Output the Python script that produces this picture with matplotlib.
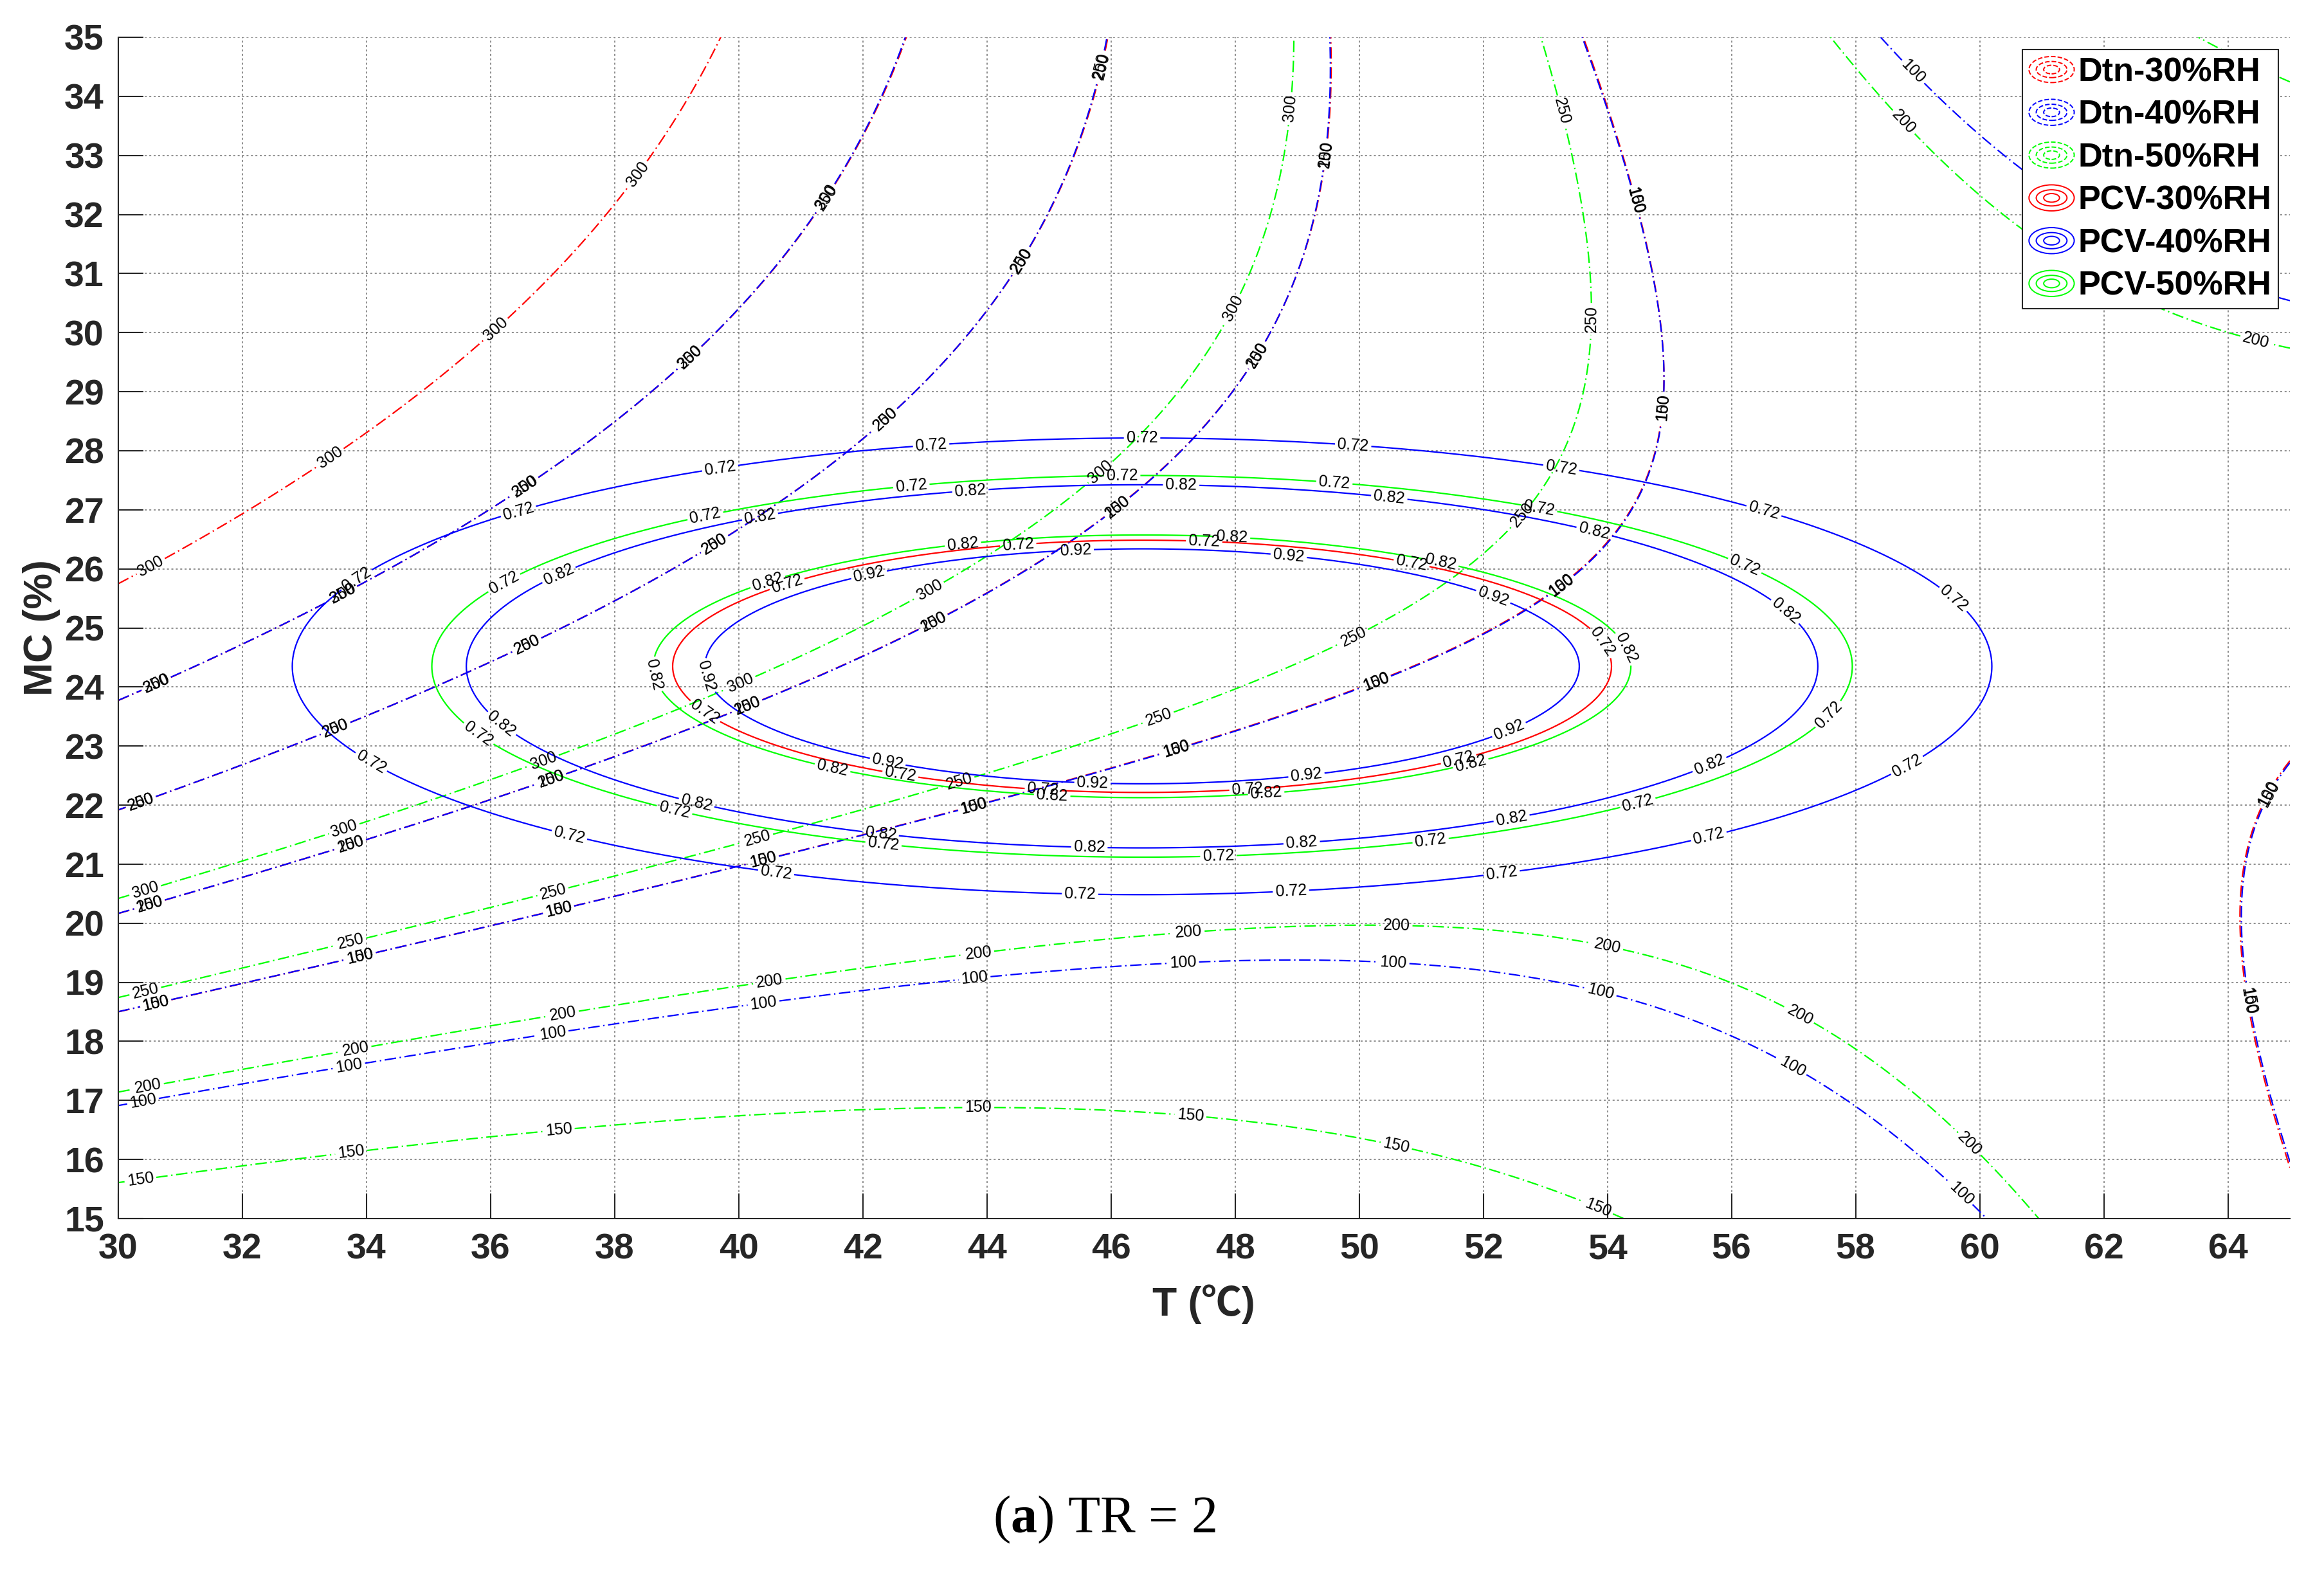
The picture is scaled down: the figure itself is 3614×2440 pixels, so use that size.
import numpy as np
import matplotlib
matplotlib.use("Agg")
import matplotlib.pyplot as plt
from matplotlib.lines import Line2D
from matplotlib.patches import Ellipse
from matplotlib.legend_handler import HandlerBase

plt.rcParams['font.family'] = ['Liberation Sans', 'DejaVu Sans']
plt.rcParams['mathtext.fontset'] = 'custom'
plt.rcParams['mathtext.rm'] = 'Liberation Serif'
plt.rcParams['mathtext.bf'] = 'Liberation Serif:bold'

# ---------------------------------------------------------------- data
x_ticks = [30, 32, 34, 36, 38, 40, 42, 44, 46, 48, 50, 52, 54, 56, 58, 60, 62, 64]
y_ticks = [15, 16, 17, 18, 19, 20, 21, 22, 23, 24, 25, 26, 27, 28, 29, 30, 31, 32, 33, 34, 35]
dtn_levels = [100, 150, 200, 250, 300]
pcv_levels = [0.72, 0.82, 0.92]
legend_labels = ['Dtn-30%RH', 'Dtn-40%RH', 'Dtn-50%RH', 'PCV-30%RH', 'PCV-40%RH', 'PCV-50%RH']

# PCV response surfaces (read from the ellipses): optimum point, peak value per RH, curvature
pcv_opt_T = 46.5
pcv_opt_MC = 24.35
pcv_peak_30 = 0.803
pcv_peak_40 = 0.992
pcv_peak_50 = 0.910
pcv_curv_T = 0.00145
pcv_curv_MC = 0.0182

# Dtn contour lines (T in degC, MC in %)
bundle1_T = [30, 32, 34, 36, 37.1, 40.5, 43.78, 47.05, 50.27, 52.39, 53.27, 54.1, 54.59, 54.77, 54.89, 54.86, 54.77, 54.59, 54.33, 53.99, 53.59]
bundle1_MC = [18.51, 18.98, 19.46, 19.95, 20.21, 21.1, 22.0, 22.95, 24.09, 25.18, 25.79, 26.48, 27.48, 28.0, 29.0, 30.0, 31.0, 32.0, 33.0, 34.0, 35.0]
bundle2_T = [30, 32, 33.74, 36, 37.94, 40.12, 43.12, 46.09, 47.52, 47.99, 48.35, 49.0, 49.28, 49.4, 49.51, 49.52]
bundle2_MC = [20.17, 20.75, 21.35, 22.08, 22.83, 23.73, 25.14, 27.06, 28.45, 29.0, 29.62, 31.0, 32.0, 32.73, 34.0, 35.0]
bundle3_T = [30, 30.37, 32, 33.5, 34, 36, 36.6, 37.94, 38.69, 39.62, 40, 40.68, 41.74, 42, 42.37, 43.63, 44, 44.38, 44.54, 44.96, 45.4, 45.67, 45.81, 45.9]
bundle3_MC = [21.92, 22.03, 22.67, 23.3, 23.48, 24.44, 24.68, 25.4, 25.83, 26.4, 26.67, 27.14, 27.99, 28.2, 28.52, 29.88, 30.35, 31.0, 31.23, 32.0, 33.0, 34.0, 34.52, 35.0]
bundle4_T = [30, 30.6, 32, 33.6, 34, 35.5, 36, 36.54, 37.3, 38, 39.23, 40, 40.54, 41.42, 42, 42.75]
bundle4_MC = [23.84, 24.08, 24.69, 25.62, 25.79, 26.66, 26.98, 27.42, 27.96, 28.5, 29.56, 30.39, 31.02, 32.28, 33.42, 35.0]
bundle5_T = [30, 30.53, 32, 33.42, 34, 34.85, 36, 36.38, 36.98, 38, 38.39, 38.88, 39.75]
bundle5_MC = [25.76, 26.03, 26.95, 27.88, 28.3, 29.0, 29.9, 30.34, 31.02, 32.15, 32.67, 33.45, 35.0]
edge_T = [65, 64.65, 64.22, 64.29, 64.6, 65]
edge_MC = [22.83, 21.95, 20.32, 18.56, 17.06, 16.05]
blue_hump_T = [30, 33.72, 36, 37, 40.4, 43.8, 47.2, 50.5, 53.9, 56.9, 59.7, 60.1]
blue_hump_MC = [16.92, 17.59, 17.98, 18.14, 18.6, 19.07, 19.34, 19.3, 18.9, 17.6, 15.55, 15.0]
blue_tr_T = [58.4, 58.9, 59.3, 60, 60.8, 64.8, 65]
blue_tr_MC = [35, 34.39, 34.0, 33.37, 32.64, 30.58, 30.54]
g150_hump_T = [30, 33.75, 37.15, 40.5, 43.9, 47.3, 50.6, 52.5, 53.8]
g150_hump_MC = [15.63, 16.12, 16.5, 16.8, 16.9, 16.75, 16.25, 15.7, 15.0]
g150_tr_T = [63.57, 65.0]
g150_tr_MC = [34.97, 34.25]
g200_hump_T = [30, 32, 33.84, 36, 37.2, 40.5, 43.8, 47.2, 50.5, 53.9, 57.1, 59.9, 61.1]
g200_hump_MC = [17.16, 17.52, 17.86, 18.2, 18.5, 19.0, 19.5, 19.9, 20.0, 19.6, 18.4, 16.25, 15.0]
g200_tr_T = [57.62, 58.0, 58.75, 59.3, 60, 60.8, 62.86, 64, 64.45, 65]
g200_tr_MC = [35, 34.48, 33.54, 32.98, 32.33, 31.7, 30.43, 30.02, 29.87, 29.75]
g250_T = [30, 32, 33.72, 36, 37.0, 40.3, 43.55, 46.8, 49.94, 51.93, 52.6, 53.32, 53.59, 53.75, 53.71, 53.59, 53.45, 53.18, 52.92]
g250_MC = [18.76, 19.19, 19.68, 20.29, 20.55, 21.45, 22.41, 23.51, 24.82, 26.17, 26.9, 28.0, 29.0, 30.0, 31.0, 32.0, 33.0, 34.0, 35.0]
g300_T = [30, 32, 33.65, 36, 40.02, 43.09, 45.83, 47.08, 47.57, 47.99, 48.22, 48.54, 48.77, 48.91, 48.95]
g300_MC = [20.43, 21.0, 21.57, 22.5, 24.09, 25.62, 27.64, 29.0, 29.56, 30.4, 31.0, 32.0, 33.0, 34.0, 35.0]

# level carried by each traced line, per series
dtn30_lines = [(bundle1_T, bundle1_MC, 100), (edge_T, edge_MC, 100), (bundle2_T, bundle2_MC, 150),
               (bundle3_T, bundle3_MC, 200), (bundle4_T, bundle4_MC, 250), (bundle5_T, bundle5_MC, 300)]
dtn40_lines = [(blue_hump_T, blue_hump_MC, 100), (blue_tr_T, blue_tr_MC, 100), (bundle1_T, bundle1_MC, 150),
               (edge_T, edge_MC, 150), (bundle2_T, bundle2_MC, 200), (bundle3_T, bundle3_MC, 250),
               (bundle4_T, bundle4_MC, 300)]
dtn50_lines = [(g150_hump_T, g150_hump_MC, 150), (g150_tr_T, g150_tr_MC, 150), (g200_hump_T, g200_hump_MC, 200),
               (g200_tr_T, g200_tr_MC, 200), (g250_T, g250_MC, 250), (g300_T, g300_MC, 300)]

# contour-label positions
lab_b5 = [(30.53, 26.03), (33.42, 27.88), (36.1, 30.04), (38.39, 32.67)]
lab_b4 = [(30.6, 24.08), (33.6, 25.62), (36.54, 27.42), (39.23, 29.56), (41.42, 32.28)]
lab_b3 = [(30.37, 22.03), (33.5, 23.3), (36.6, 24.68), (39.62, 26.4), (42.37, 28.52), (44.54, 31.23), (45.81, 34.52)]
lab_b2 = [(30.5, 20.33), (33.74, 21.35), (36.98, 22.42), (40.12, 23.73), (43.12, 25.14), (46.09, 27.06), (48.35, 29.62), (49.44, 33.02)]
lab_b1 = [(30.6, 18.66), (33.9, 19.44), (37.1, 20.21), (40.4, 21.05), (43.78, 22.0), (47.05, 22.95), (50.27, 24.09), (53.24, 25.74), (54.89, 28.73), (54.43, 32.23)]
lab_edge = [(64.72, 22.15), (64.36, 18.69)]
lab_blue_hump = [(30.4, 16.97), (33.72, 17.59), (37.0, 18.14), (40.4, 18.64), (43.8, 19.07), (47.16, 19.34), (50.55, 19.32), (53.9, 18.86), (57.0, 17.6), (59.75, 15.48), (58.9, 34.39)]
lab_g150 = [(30.36, 15.63), (33.75, 16.13), (37.1, 16.48), (43.86, 16.9), (47.28, 16.75), (50.6, 16.25), (53.85, 15.18)]
lab_g200 = [(30.48, 17.23), (33.82, 17.89), (37.17, 18.44), (40.5, 19.0), (43.86, 19.49), (47.25, 19.84), (50.6, 19.97), (54.0, 19.62), (57.1, 18.44), (59.87, 16.3), (58.75, 33.54), (64.45, 29.87)]
lab_g250 = [(30.43, 18.89), (33.75, 19.67), (37.0, 20.55), (40.3, 21.45), (43.55, 22.4), (46.77, 23.48), (49.93, 24.81), (52.62, 26.92), (53.78, 30.23), (53.25, 33.75)]
lab_g300 = [(30.44, 20.55), (33.65, 21.57), (36.86, 22.74), (40.02, 24.09), (43.09, 25.62), (45.83, 27.64), (47.99, 30.4), (48.89, 33.8)]

lab_pcv30 = [(40.78, 25.74), (44.5, 26.45), (47.5, 26.47), (50.84, 26.08), (53.84, 24.7), (51.6, 22.78), (48.2, 22.24), (44.9, 22.24), (42.6, 22.49), (39.4, 23.5)]
lab_pcv40 = [(43.1, 28.1), (46.5, 28.2), (49.9, 28.07), (39.7, 27.7), (53.25, 27.67), (36.45, 26.97), (56.5, 26.9), (59.5, 25.4),
             (34.06, 25.46), (34.06, 22.7), (37.26, 21.45), (40.6, 20.85), (45.5, 20.47), (48.9, 20.52), (52.3, 20.82), (55.64, 21.45), (58.84, 22.65),
             (43.74, 27.22), (47.13, 27.42), (50.48, 27.17), (40.35, 26.84), (53.78, 26.6), (37.1, 25.9), (56.8, 25.2), (55.64, 22.7),
             (52.46, 21.75), (49.07, 21.4), (45.65, 21.27), (42.28, 21.45), (39.3, 21.95), (36.14, 23.33),
             (42.1, 25.9), (45.43, 26.29), (48.86, 26.19), (52.15, 25.5), (39.49, 24.19), (52.4, 23.31), (49.15, 22.5), (45.7, 22.34), (42.4, 22.73)]
lab_pcv50 = [(42.78, 27.42), (46.18, 27.5), (49.6, 27.47), (39.46, 26.9), (52.9, 27.02), (36.2, 25.8), (56.2, 26.02), (57.5, 23.6),
             (35.8, 23.2), (38.96, 21.9), (42.33, 21.32), (47.73, 21.12), (51.15, 21.4), (54.5, 22.0),
             (40.4, 26.0), (43.6, 26.54), (47.95, 26.54), (51.3, 26.04), (54.2, 24.6), (38.6, 24.2), (41.5, 22.58), (45.05, 22.15), (48.5, 22.2), (51.74, 22.95)]


# ---------------------------------------------------------------- surfaces
def fit_quadratic(lines):
    T = np.concatenate([np.asarray(l[0], float) for l in lines])
    M = np.concatenate([np.asarray(l[1], float) for l in lines])
    L = np.concatenate([np.full(len(l[0]), l[2], float) for l in lines])
    u, v = (T - 47.5) / 17.5, (M - 25.0) / 10.0
    A = np.column_stack([np.ones_like(u), u, v, u * u, v * v, u * v])
    coef, *_ = np.linalg.lstsq(A, L, rcond=None)

    def f(TT, MM):
        uu, vv = (TT - 47.5) / 17.5, (MM - 25.0) / 10.0
        return coef[0] + coef[1] * uu + coef[2] * vv + coef[3] * uu * uu + coef[4] * vv * vv + coef[5] * uu * vv
    return f


Tg = np.linspace(30, 65, 701)
Mg = np.linspace(15, 35, 401)
TT, MM = np.meshgrid(Tg, Mg)


def pcv(peak):
    return peak - pcv_curv_T * (TT - pcv_opt_T) ** 2 - pcv_curv_MC * (MM - pcv_opt_MC) ** 2


# ---------------------------------------------------------------- figure
W, H = 3614, 2440
fig = plt.figure(figsize=(W / 100, H / 100), dpi=100)
ax_l, ax_r, ax_t, ax_b = 184, 3561, 58, 1895
ax = fig.add_axes([ax_l / W, 1 - ax_b / H, (ax_r - ax_l) / W, (ax_b - ax_t) / H])

dd = (0, (8, 2.5, 1, 2.5))
lw = 1.6
red, blue, green = (1, 0, 0), (0, 0, 1), (0, 1, 0)

dtn_specs = [(dtn30_lines, red, lab_b1 + lab_b2 + lab_b3 + lab_b4 + lab_b5 + lab_edge),
             (dtn40_lines, blue, lab_b1 + lab_b2 + lab_b3 + lab_b4 + lab_edge + lab_blue_hump),
             (dtn50_lines, green, lab_g150 + lab_g200 + lab_g250 + lab_g300)]
for lines, col, labs in dtn_specs:
    Z = fit_quadratic(lines)(TT, MM)
    cs = ax.contour(TT, MM, Z, levels=dtn_levels, colors=[col], linewidths=lw,
                    linestyles=[dd] * len(dtn_levels))
    ax.clabel(cs, fmt='%d', fontsize=18, colors='k', inline=True, inline_spacing=4, manual=labs)

for peak, col, labs in [(pcv_peak_30, red, lab_pcv30), (pcv_peak_40, blue, lab_pcv40), (pcv_peak_50, green, lab_pcv50)]:
    Z = pcv(peak)
    lv = [l for l in pcv_levels if l < peak]
    cs = ax.contour(TT, MM, Z, levels=lv, colors=[col], linewidths=lw, linestyles='solid')
    ax.clabel(cs, fmt='%.2f', fontsize=18, colors='k', inline=True, inline_spacing=4, manual=labs)

ax.set_xlim(30, 65)
ax.set_ylim(15, 35)
ax.set_xticks(x_ticks, labels=[str(v) for v in x_ticks], fontsize=40, fontweight='bold')
ax.set_yticks(y_ticks, labels=[str(v) for v in y_ticks], fontsize=40, fontweight='bold')
ax.tick_params(direction='in', length=28, width=1.5, colors='#262626', pad=16)
for s in ['top', 'right']:
    ax.spines[s].set_visible(False)
for s in ['left', 'bottom']:
    ax.spines[s].set_color('#262626')
    ax.spines[s].set_linewidth(1.5)
ax.grid(True, linestyle=(0, (2, 2.5)), color='#707070', linewidth=1.1)
ax.set_axisbelow(True)

fig.text(1872 / W, 1 - 2028 / H, 'T (℃)', fontsize=45, fontweight='bold', ha='center', va='center',
         family=['Liberation Sans', 'Noto Sans CJK SC', 'DejaVu Sans'], color='#262626')
fig.text(64.5 / W, 1 - 976 / H, 'MC (%)', fontsize=45, fontweight='bold', ha='center', va='center',
         rotation=90, color='#262626')


class HandlerContourIcon(HandlerBase):
    def create_artists(self, legend, orig_handle, xdescent, ydescent, width, height, fontsize, trans):
        cx, cy = -xdescent + width / 2, -ydescent + height / 2
        arts = []
        for fw, fh in [(1.0, 1.0), (0.68, 0.62), (0.35, 0.33)]:
            e = Ellipse((cx, cy), width * fw, height * fh, facecolor='none',
                        edgecolor=orig_handle.get_color(), linewidth=orig_handle.get_linewidth(),
                        linestyle=orig_handle.get_linestyle(), transform=trans)
            arts.append(e)
        return arts


icon_dd = (0, (3, 1.5, 1, 1.5))
handles = [Line2D([], [], color=red, linestyle=icon_dd, linewidth=1.4),
           Line2D([], [], color=blue, linestyle=icon_dd, linewidth=1.4),
           Line2D([], [], color=green, linestyle=icon_dd, linewidth=1.4),
           Line2D([], [], color=red, linestyle='-', linewidth=1.4),
           Line2D([], [], color=blue, linestyle='-', linewidth=1.4),
           Line2D([], [], color=green, linestyle='-', linewidth=1.4)]
leg = ax.legend(handles, legend_labels, handler_map={Line2D: HandlerContourIcon()},
                loc='upper right', bbox_to_anchor=(0.9947, 0.9894), borderaxespad=0,
                prop={'size': 37.5, 'weight': 'bold'}, handlelength=1.35, handleheight=0.82,
                handletextpad=0.12, borderpad=0.2, labelspacing=0.33, fancybox=False,
                framealpha=1, edgecolor='#262626')
leg.get_frame().set_linewidth(1.5)

fig.text(1717 / W, 1 - 2363 / H, '(' + r'$\mathbf{a}$' + ') TR = 2', fontsize=59,
         family='Liberation Serif', ha='center', va='center')

fig.savefig('out.png', dpi=100)
